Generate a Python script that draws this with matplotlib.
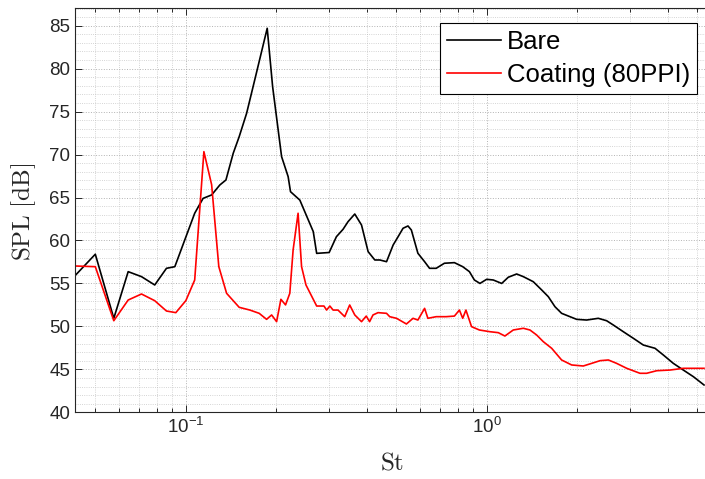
import matplotlib
matplotlib.use("Agg")
import matplotlib.pyplot as plt
from matplotlib.ticker import FixedLocator, NullFormatter, LogLocator, MultipleLocator

plt.rcParams['font.family'] = ['Liberation Sans', 'DejaVu Sans']
plt.rcParams['mathtext.fontset'] = 'cm'

# Bare configuration
bare_st = [0.0428, 0.0500, 0.0576, 0.0643, 0.0712, 0.0788, 0.0862, 0.0919, 0.107, 0.1141,
           0.1218, 0.1297, 0.1359, 0.1437, 0.1504, 0.1592, 0.171, 0.1864, 0.1943, 0.2081,
           0.2188, 0.2228, 0.2393, 0.2652, 0.2722, 0.2995, 0.3166, 0.3331, 0.3461, 0.3644,
           0.3837, 0.4036, 0.4248, 0.4414, 0.4647, 0.4889, 0.5077, 0.5273, 0.5476, 0.5619,
           0.5908, 0.6219, 0.6459, 0.6796, 0.7236, 0.7813, 0.8326, 0.8764, 0.9104, 0.950,
           1.0, 1.052, 1.122, 1.180, 1.258, 1.324, 1.429, 1.524, 1.603, 1.687,
           1.775, 1.892, 1.992, 2.150, 2.350, 2.505, 2.637, 2.847, 3.075, 3.318,
           3.629, 3.867, 4.173, 4.506, 4.87, 5.28]
bare_spl = [55.9, 58.4, 50.94, 56.37, 55.79, 54.82, 56.76, 56.95, 63.17, 64.9,
            65.3, 66.46, 67.04, 70.15, 72.08, 74.8, 79.27, 84.7, 77.9, 69.76,
            67.43, 65.68, 64.7, 61.03, 58.5, 58.6, 60.44, 61.3, 62.19, 63.08,
            61.8, 58.7, 57.73, 57.73, 57.53, 59.48, 60.44, 61.42, 61.69, 61.22,
            58.51, 57.53, 56.76, 56.76, 57.35, 57.42, 56.95, 56.37, 55.4, 55.0,
            55.48, 55.4, 55.0, 55.72, 56.1, 55.79, 55.2, 54.24, 53.46, 52.29,
            51.52, 51.13, 50.82, 50.74, 50.94, 50.66, 50.16, 49.38, 48.61, 47.83,
            47.45, 46.67, 45.7, 44.92, 44.14, 43.18]

# Coating (80PPI)
coat_st = [0.0428, 0.0500, 0.0576, 0.0643, 0.0712, 0.0788, 0.0862, 0.0926, 0.1, 0.107,
           0.1148, 0.1218, 0.1287, 0.1366, 0.1504, 0.1633, 0.1753, 0.1855, 0.1928, 0.2003,
           0.207, 0.2145, 0.2216, 0.2273, 0.2361, 0.2425, 0.2508, 0.2722, 0.2878, 0.2937,
           0.3011, 0.3087, 0.3205, 0.3374, 0.3505, 0.3644, 0.3837, 0.3978, 0.4082, 0.4189,
           0.4354, 0.4647, 0.4761, 0.5016, 0.5411, 0.5692, 0.5908, 0.6219, 0.6377, 0.6796,
           0.7329, 0.7813, 0.8117, 0.8326, 0.8533, 0.8908, 0.9458, 1.026, 1.093, 1.150,
           1.226, 1.324, 1.393, 1.466, 1.543, 1.645, 1.775, 1.917, 2.095, 2.236,
           2.383, 2.539, 2.703, 2.922, 3.234, 3.402, 3.676, 4.072, 4.506, 4.87, 5.28]
coat_spl = [57.03, 56.95, 50.66, 53.07, 53.77, 52.99, 51.79, 51.6, 53.0, 55.4,
            70.34, 66.5, 56.95, 53.85, 52.22, 51.9, 51.52, 50.82, 51.33, 50.55,
            53.15, 52.5, 53.85, 58.9, 63.17, 56.95, 54.82, 52.37, 52.37, 51.9,
            52.37, 51.9, 51.9, 51.13, 52.49, 51.33, 50.55, 51.2, 50.55, 51.33,
            51.6, 51.52, 51.13, 50.94, 50.28, 50.94, 50.74, 52.1, 50.94, 51.13,
            51.13, 51.2, 51.9, 50.94, 51.9, 49.97, 49.58, 49.38, 49.27, 48.88,
            49.58, 49.78, 49.58, 49.0, 48.22, 47.45, 46.09, 45.51, 45.39, 45.7,
            46.01, 46.09, 45.7, 45.12, 44.54, 44.54, 44.84, 44.92, 45.12, 45.12, 45.12]

series_labels = ['Bare', 'Coating (80PPI)']
y_ticks = [40, 45, 50, 55, 60, 65, 70, 75, 80, 85]
x_ticks = [0.1, 1.0]
x_tick_labels = [r'$\mathdefault{10^{-1}}$', r'$\mathdefault{10^{0}}$']

fig = plt.figure(figsize=(7.05, 4.79), dpi=100)
ax = fig.add_axes([75 / 705, (479 - 412.3) / 479, 630 / 705, (412.3 - 8) / 479])

ax.plot(bare_st, bare_spl, color='black', lw=1.2, label=series_labels[0])
ax.plot(coat_st, coat_spl, color='#ff0000', lw=1.2, label=series_labels[1])

ax.set_xscale('log')
ax.set_xlim(0.0428, 5.32)
ax.set_ylim(40, 87.06)

ax.xaxis.set_major_locator(FixedLocator(x_ticks))
ax.set_xticklabels(x_tick_labels)
ax.xaxis.set_minor_locator(LogLocator(base=10, subs=[2, 3, 4, 5, 6, 7, 8, 9], numticks=20))
ax.xaxis.set_minor_formatter(NullFormatter())
ax.set_yticks(y_ticks)
ax.yaxis.set_minor_locator(MultipleLocator(1))

axcol = '#262626'
ax.tick_params(which='both', direction='in', top=True, right=False, colors=axcol,
               labelsize=13.5, width=0.7)
ax.tick_params(which='major', length=5)
ax.tick_params(which='minor', axis='x', length=3)
ax.tick_params(which='minor', axis='y', length=0)
for s in ['left', 'bottom', 'top']:
    ax.spines[s].set_color(axcol)
    ax.spines[s].set_linewidth(0.8)
ax.spines['right'].set_visible(False)

ax.grid(True, which='major', linestyle=':', color='#a0a0a0', lw=0.7, alpha=0.8)
ax.grid(True, which='minor', linestyle=':', color='#b8b8b8', lw=0.6, alpha=0.8)
ax.set_axisbelow(True)

ax.set_xlabel(r'$\mathrm{St}$', fontsize=18, color=axcol)
ax.set_ylabel(r'$\mathrm{SPL\ [dB]}$', fontsize=18, color=axcol)
ax.xaxis.set_label_coords(0.503, -0.095)
ax.yaxis.set_label_coords(-0.0587, 0.497)

leg = ax.legend(loc='upper right', bbox_to_anchor=(697.3 / 705, 1 - 22.7 / 479),
                bbox_transform=fig.transFigure, fontsize=18.5, frameon=True,
                fancybox=False, framealpha=1, edgecolor='black', handlelength=2.1,
                handletextpad=0.23, borderpad=0.27, labelspacing=0.36, borderaxespad=0)
leg.get_frame().set_linewidth(0.8)

fig.savefig('out.png', dpi=100)
